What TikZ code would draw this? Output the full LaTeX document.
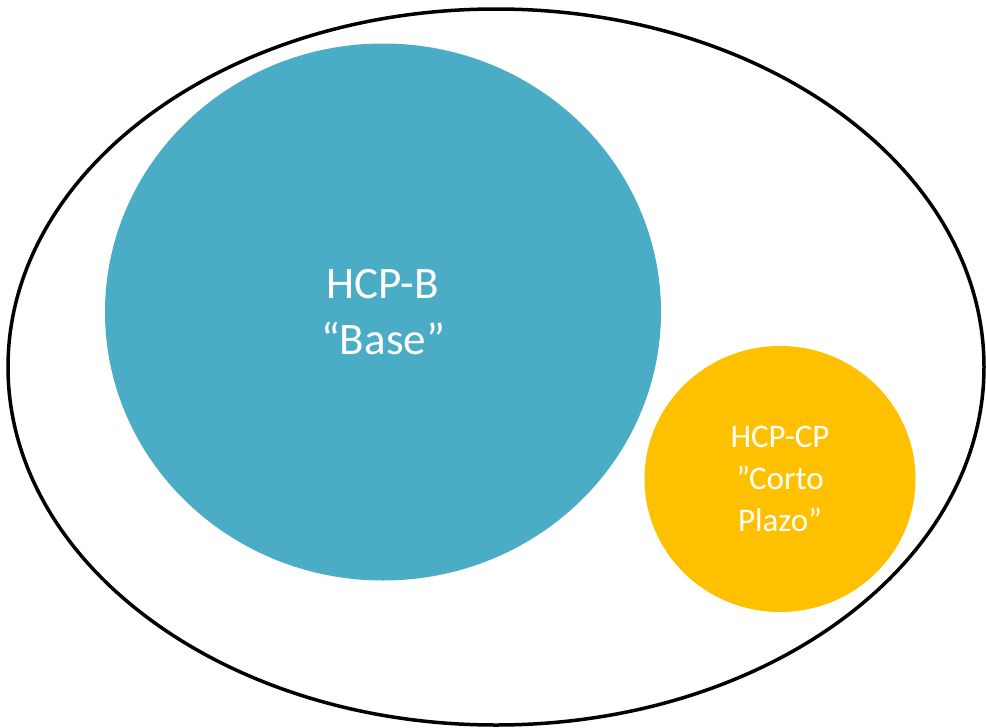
\documentclass[tikz,border=0pt]{standalone}
\usepackage{fontspec}
\setmainfont{Carlito}
\usetikzlibrary{shapes.geometric}
\definecolor{basecol}{HTML}{4BACC6}
\definecolor{cpcol}{HTML}{FFC000}
\tikzset{
  blob/.style={ellipse, inner sep=0pt, text=white, align=center},
}
\begin{document}
\begin{tikzpicture}[x=1pt,y=-1pt]
\useasboundingbox (0,0) rectangle (986,728);
\node[ellipse, draw=black, line width=3.5pt, minimum width=976pt, minimum height=716pt, inner sep=0pt] (outer) at (496,367) {};
\node[blob, fill=basecol, minimum width=556pt, minimum height=537pt, font=\fontsize{45}{56}\selectfont] (base) at (383,312) {HCP-B\\“Base”};
\node[blob, fill=cpcol, minimum width=271pt, minimum height=266pt, font=\fontsize{33}{42}\selectfont] (cp) at (780,479) {HCP-CP\\”Corto\\Plazo”};
\end{tikzpicture}
\end{document}
